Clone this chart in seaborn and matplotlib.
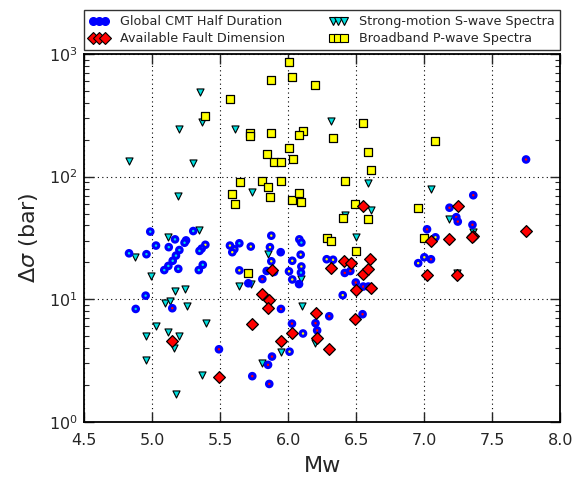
import matplotlib
matplotlib.use("Agg")
import matplotlib.pyplot as plt
from matplotlib.lines import Line2D
import seaborn as sns
import pandas as pd

# ---------------- data ----------------
# Global CMT half duration (blue circles); inner colour marks the event's other category
cmt_mw = [4.985, 4.829, 4.957, 5.027, 5.167, 5.121, 5.248, 5.237, 5.301, 5.199,
          5.174, 5.150, 5.118, 5.088, 5.191, 5.390, 5.363, 5.347, 5.342, 5.371,
          4.951, 4.878, 5.147, 5.490, 5.735, 5.860, 5.851, 5.880, 5.946, 6.027,
          6.108, 6.009, 6.200, 6.301, 6.212, 6.546, 5.571, 5.603, 5.588, 5.640,
          5.724, 5.875, 5.865, 5.944, 5.875, 5.640, 5.841, 5.895, 5.706, 5.809,
          6.081, 6.096, 6.091, 6.029, 6.096, 6.093, 6.005, 6.029, 6.079, 6.282,
          6.329, 6.415, 6.456, 6.496, 6.551, 6.588, 6.400, 7.360, 7.185, 7.235,
          7.246, 7.354, 7.020, 7.082, 7.000, 7.049, 6.955, 7.748]
cmt_ds = [35.6, 23.7, 23.3, 27.4, 30.8, 26.6, 30.2, 28.9, 36.0, 25.2,
          22.7, 20.6, 18.7, 17.3, 17.7, 27.8, 25.9, 24.8, 17.3, 19.1,
          10.7, 8.34, 8.45, 3.91, 2.36, 2.04, 2.92, 3.41, 8.34, 6.33,
          5.26, 3.74, 6.38, 7.27, 5.57, 7.55, 27.4, 25.6, 24.2, 28.6,
          26.9, 33.0, 26.6, 24.2, 20.4, 17.2, 17.0, 16.7, 13.5, 14.6,
          30.8, 29.0, 23.1, 20.6, 18.5, 16.5, 16.9, 14.5, 13.3, 21.2,
          21.0, 16.4, 17.0, 13.7, 12.7, 12.7, 10.8, 70.5, 55.8, 46.7,
          43.0, 40.5, 37.2, 32.0, 22.0, 21.2, 19.7, 138.0]
cmt_inner = ["c", "c", "c", "c", "c", "c", "c", "c", "c", "c",
             "c", "c", "c", "c", "c", "y", "c", "c", "c", "c",
             "c", "c", "r", "r", "r", "r", "r", "r", "r", "r",
             "y", "y", "r", "r", "r", "r", "y", "y", "y", "c",
             "y", "y", "y", "b", "y", "y", "b", "b", "b", "r",
             "y", "c", "y", "y", "y", "c", "y", "y", "b", "y",
             "y", "r", "r", "r", "r", "r", "y", "r", "r", "r",
             "r", "r", "r", "y", "y", "r", "y", "r"]

# Available fault dimension (red diamonds)
fault_mw = [5.148, 5.488, 5.735, 5.807, 5.860, 5.851, 5.877, 5.944, 6.024, 6.200,
            6.212, 6.301, 6.314, 6.413, 6.459, 6.551, 6.586, 6.599, 6.499, 6.606,
            6.490, 6.551, 7.246, 7.049, 7.184, 7.360, 7.351, 7.018, 7.237, 7.748]
fault_ds = [4.57, 2.31, 6.29, 11.0, 9.87, 8.5, 17.2, 4.6, 5.33, 7.77,
            4.79, 3.92, 17.9, 20.4, 19.8, 16.0, 17.8, 21.2, 11.9, 12.3,
            6.93, 58.0, 57.5, 30.0, 30.8, 32.9, 32.0, 15.9, 15.7, 35.9]

# Strong-motion S-wave spectra (cyan triangles)
smot_mw = [4.829, 4.875, 4.988, 5.113, 5.343, 5.167, 5.240, 5.090, 5.130, 5.253,
           5.027, 5.393, 4.957, 5.118, 5.195, 5.162, 4.951, 5.369, 5.171, 5.351,
           5.366, 5.196, 5.301, 5.189, 5.606, 5.735, 5.641, 5.724, 5.851, 6.093,
           6.098, 5.946, 5.808, 6.198, 6.314, 6.586, 6.415, 6.608, 6.500, 7.049,
           7.184, 7.360, 6.594, 7.239]
smot_ds = [134, 22.0, 15.5, 32.4, 37.0, 11.7, 12.1, 9.3, 9.7, 8.87,
           6.1, 6.44, 5.02, 5.4, 5.02, 3.98, 3.2, 2.4, 1.69, 493,
           279, 246, 128, 70, 244, 75, 12.8, 13.3, 23.3, 14.5,
           8.87, 3.7, 3.0, 4.44, 285, 88, 49, 53.5, 32.0, 80,
           45.2, 35.2, 12.3, 16.3]

# Broadband P-wave spectra (yellow squares)
bb_mw = [6.005, 6.029, 5.873, 6.199, 5.571, 5.385, 5.721, 5.721, 5.875, 6.110,
         6.081, 6.007, 6.032, 5.841, 5.897, 5.944, 5.643, 5.809, 5.851, 5.944,
         5.588, 5.865, 5.606, 6.029, 6.079, 6.096, 6.551, 6.329, 7.081, 6.586,
         6.608, 6.417, 6.490, 6.400, 6.588, 6.954, 6.285, 6.314, 6.500, 7.000,
         5.706]
bb_ds = [857, 650, 611, 560, 430, 315, 226, 216, 228, 235,
         218, 171, 140, 154, 132, 132, 90, 92, 82, 92,
         72, 68, 60, 64, 73.5, 62, 274, 208, 195, 159,
         113, 92, 60, 45.6, 45.2, 55.6, 31.4, 29.8, 24.7, 31.4,
         16.5]

labels = ["Global CMT Half Duration", "Available Fault Dimension",
          "Strong-motion S-wave Spectra", "Broadband P-wave Spectra"]
xticks = [4.5, 5.0, 5.5, 6.0, 6.5, 7.0, 7.5, 8.0]

# ---------------- style ----------------
sns.set_style("ticks")
plt.rcParams["font.family"] = ["DejaVu Sans"]

BLUE = "#0000ff"
RED = "#ff0000"
CYAN = "#00dede"
YELLOW = "#ffff00"
inner_pal = {"c": CYAN, "y": YELLOW, "r": RED, "b": BLUE}

fig = plt.figure(figsize=(5.83, 4.79), dpi=100)
ax = fig.add_axes([0.1446, 0.1192, 0.8165, 0.7681])

df_cmt = pd.DataFrame({"mw": cmt_mw, "ds": cmt_ds, "inner": cmt_inner})
df_fault = pd.DataFrame({"mw": fault_mw, "ds": fault_ds})
df_smot = pd.DataFrame({"mw": smot_mw, "ds": smot_ds})
df_bb = pd.DataFrame({"mw": bb_mw, "ds": bb_ds})

sns.scatterplot(data=df_smot, x="mw", y="ds", marker="v", s=26, color=CYAN,
                edgecolor="black", linewidth=0.8, ax=ax, zorder=3, legend=False)
sns.scatterplot(data=df_bb, x="mw", y="ds", marker="s", s=32, color=YELLOW,
                edgecolor="black", linewidth=0.9, ax=ax, zorder=3, legend=False)
sns.scatterplot(data=df_cmt, x="mw", y="ds", hue="inner", palette=inner_pal,
                marker="o", s=16, edgecolor=BLUE, linewidth=2.2, ax=ax,
                zorder=4, legend=False)
sns.scatterplot(data=df_fault, x="mw", y="ds", marker="D", s=36, color=RED,
                edgecolor="black", linewidth=0.9, ax=ax, zorder=5, legend=False)

ax.set_yscale("log")
ax.set_xlim(4.5, 8.0)
ax.set_ylim(1, 1000)
ax.set_xticks(xticks)
ax.set_xticklabels([f"{t:.1f}" for t in xticks])
ax.grid(True, which="major", linestyle=(0, (1, 3)), color="black", linewidth=0.8)
ax.tick_params(which="both", direction="in", top=True, right=True, labelsize=11.5)
ax.tick_params(axis="x", which="major", pad=8)
ax.tick_params(axis="y", which="major", pad=5)
ax.tick_params(which="major", length=7, width=1)
ax.tick_params(which="minor", length=3.5, width=0.8)
for sp in ax.spines.values():
    sp.set_linewidth(1.3)
    sp.set_color("black")

ax.set_xlabel("Mw", fontsize=16, labelpad=6)
ax.set_ylabel(r"$\Delta\sigma$ (bar)", fontsize=16, labelpad=6)

handles = [
    Line2D([], [], linestyle="none", marker="o", markersize=5.5, markerfacecolor=BLUE,
           markeredgecolor=BLUE, markeredgewidth=1.0),
    Line2D([], [], linestyle="none", marker="D", markersize=6, markerfacecolor=RED,
           markeredgecolor="black", markeredgewidth=0.8),
    Line2D([], [], linestyle="none", marker="v", markersize=5.5, markerfacecolor=CYAN,
           markeredgecolor="black", markeredgewidth=0.8),
    Line2D([], [], linestyle="none", marker="s", markersize=5.5, markerfacecolor=YELLOW,
           markeredgecolor="black", markeredgewidth=0.8),
]
leg = ax.legend(handles, labels, ncol=2, numpoints=3,
                loc="lower left", bbox_to_anchor=(0.0, 1.01, 1.0, 0.1), mode="expand",
                borderaxespad=0.0, fancybox=False, frameon=True, fontsize=9.2,
                handlelength=1.5, handletextpad=0.9, columnspacing=1.0,
                borderpad=0.4, labelspacing=0.3)
leg.get_frame().set_edgecolor("black")
leg.get_frame().set_linewidth(1.0)

fig.savefig("out.png", dpi=100)
